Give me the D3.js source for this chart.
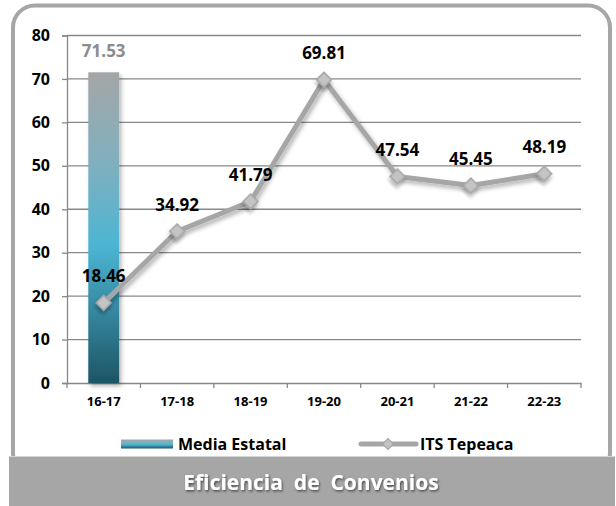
<!DOCTYPE html>
<html>
<head>
<meta charset="utf-8">
<script src="https://cdn.jsdelivr.net/npm/d3@7"></script>
<style>
  body { margin: 0; background: #fff; }
  svg { display: block; }
  text { font-family: 'Open Sans', sans-serif; font-weight: bold; }
</style>
</head>
<body>
<div id="chart"></div>
<script>
// data
const periods = ['16-17', '17-18', '18-19', '19-20', '20-21', '21-22', '22-23']
const itsTepeaca = [18.46, 34.92, 41.79, 69.81, 47.54, 45.45, 48.19]
const mediaEstatal = [71.53, null, null, null, null, null, null]
const yTicks = [0, 10, 20, 30, 40, 50, 60, 70, 80]
const seriesNames = ['Media Estatal', 'ITS Tepeaca']
const title = 'Eficiencia  de  Convenios'

const width = 616
const height = 506
const plot = { left: 67, right: 581, top: 35.5, bottom: 383 }

const svg = d3
  .select('#chart')
  .append('svg')
  .attr('width', width)
  .attr('height', height)

const defs = svg.append('defs')

const grad = defs
  .append('linearGradient')
  .attr('id', 'barGrad')
  .attr('x1', 0).attr('y1', 0)
  .attr('x2', 0).attr('y2', 1)
grad.append('stop').attr('offset', '0%').attr('stop-color', '#a4a6a7')
grad.append('stop').attr('offset', '30%').attr('stop-color', '#7fb0bf')
grad.append('stop').attr('offset', '56%').attr('stop-color', '#4bb5d3')
grad.append('stop').attr('offset', '100%').attr('stop-color', '#1d5566')

const shadow = defs.append('filter').attr('id', 'shadow')
  .attr('x', '-50%').attr('y', '-50%').attr('width', '200%').attr('height', '200%')
shadow.append('feDropShadow')
  .attr('dx', 2).attr('dy', 3).attr('stdDeviation', 2)
  .attr('flood-color', '#000').attr('flood-opacity', 0.3)

const textShadow = defs.append('filter').attr('id', 'tshadow')
textShadow.append('feDropShadow')
  .attr('dx', 1).attr('dy', 1.5).attr('stdDeviation', 1)
  .attr('flood-color', '#000').attr('flood-opacity', 0.55)

// frame
svg.append('rect')
  .attr('x', 13).attr('y', 5.5)
  .attr('width', 597).attr('height', 470)
  .attr('rx', 22)
  .attr('fill', '#fff')
  .attr('stroke', '#a6a6a6')
  .attr('stroke-width', 4)

svg.append('rect')
  .attr('x', 9).attr('y', 457)
  .attr('width', 606).attr('height', 49)
  .attr('fill', '#a6a6a6')

svg.append('line')
  .attr('x1', 9).attr('x2', 615)
  .attr('y1', 456.5).attr('y2', 456.5)
  .attr('stroke', '#d4d4d4')

svg.append('text')
  .attr('x', 311).attr('y', 482)
  .attr('text-anchor', 'middle')
  .attr('dominant-baseline', 'central')
  .attr('fill', '#fff')
  .attr('font-size', 21)
  .attr('filter', 'url(#tshadow)')
  .style('white-space', 'pre')
  .text(title)

// scales
const x = d3.scaleBand().domain(periods).range([plot.left, plot.right])
const y = d3.scaleLinear().domain([0, 80]).range([plot.bottom, plot.top])

// gridlines
svg.append('g')
  .selectAll('line')
  .data(yTicks.slice(1))
  .enter()
  .append('line')
  .attr('x1', plot.left).attr('x2', plot.right)
  .attr('y1', d => y(d)).attr('y2', d => y(d))
  .attr('stroke', '#888')
  .attr('stroke-width', 1.3)

// axes
const yAxis = svg.append('g')
  .attr('transform', `translate(${plot.left},0)`)
  .call(d3.axisLeft(y).tickValues(yTicks).tickSize(5).tickPadding(12))
yAxis.select('.domain').attr('stroke', '#888').attr('stroke-width', 1.3)
yAxis.selectAll('.tick line').attr('stroke', '#888').attr('stroke-width', 1.3)
yAxis.selectAll('text')
  .attr('font-size', 16)
  .attr('fill', '#000')
  .attr('font-family', 'Open Sans')

const xAxis = svg.append('g')
  .attr('transform', `translate(0,${plot.bottom})`)
  .call(d3.axisBottom(x).tickSize(0).tickPadding(14))
xAxis.select('.domain').attr('stroke', '#888').attr('stroke-width', 1.3)
xAxis.selectAll('text')
  .attr('font-size', 13)
  .attr('fill', '#000')
  .attr('font-family', 'Open Sans')

// x ticks at band boundaries
svg.append('g')
  .selectAll('line')
  .data(periods.map(p => x(p)).concat([x(periods[periods.length - 1]) + x.bandwidth()]))
  .enter()
  .append('line')
  .attr('x1', d => d).attr('x2', d => d)
  .attr('y1', plot.bottom).attr('y2', plot.bottom + 5)
  .attr('stroke', '#888')
  .attr('stroke-width', 1.3)

// bars
const barW = x.bandwidth() * 0.42
const barData = periods
  .map((p, i) => ({ p, v: mediaEstatal[i] }))
  .filter(d => d.v != null)

svg.append('g')
  .selectAll('rect')
  .data(barData)
  .enter()
  .append('rect')
  .attr('x', d => x(d.p) + x.bandwidth() / 2 - barW / 2)
  .attr('y', d => y(d.v))
  .attr('width', barW)
  .attr('height', d => y(0) - y(d.v))
  .attr('fill', 'url(#barGrad)')
  .attr('filter', 'url(#shadow)')

svg.append('g')
  .selectAll('text')
  .data(barData)
  .enter()
  .append('text')
  .attr('x', d => x(d.p) + x.bandwidth() / 2)
  .attr('y', d => y(d.v) - 22)
  .attr('text-anchor', 'middle')
  .attr('dominant-baseline', 'central')
  .attr('font-size', 17)
  .attr('fill', '#8c8c8c')
  .text(d => d.v.toFixed(2))

// line
const pts = periods.map((p, i) => ({ p, v: itsTepeaca[i] }))
const cx = d => x(d.p) + x.bandwidth() / 2

const line = d3.line().x(cx).y(d => y(d.v))

svg.append('path')
  .datum(pts)
  .attr('d', line)
  .attr('fill', 'none')
  .attr('stroke', '#a6a6a6')
  .attr('stroke-width', 5)
  .attr('stroke-linejoin', 'round')
  .attr('filter', 'url(#shadow)')

const diamond = d3.symbol().type(d3.symbolSquare).size(110)

svg.append('g')
  .selectAll('path')
  .data(pts)
  .enter()
  .append('path')
  .attr('d', diamond)
  .attr('transform', d => `translate(${cx(d)},${y(d.v)}) rotate(45)`)
  .attr('fill', '#c4c4c4')
  .attr('stroke', '#a6a6a6')
  .attr('stroke-width', 1.5)
  .attr('filter', 'url(#shadow)')

svg.append('g')
  .selectAll('text')
  .data(pts)
  .enter()
  .append('text')
  .attr('x', cx)
  .attr('y', d => y(d.v) - 27)
  .attr('text-anchor', 'middle')
  .attr('dominant-baseline', 'central')
  .attr('font-size', 17)
  .attr('fill', '#000')
  .text(d => d.v.toFixed(2))

// legend
const legend = svg.append('g').attr('transform', 'translate(0,444)')

legend.append('rect')
  .attr('x', 121).attr('y', -4.5)
  .attr('width', 52).attr('height', 9)
  .attr('fill', 'url(#barGrad)')

legend.append('text')
  .attr('x', 178).attr('y', 0)
  .attr('dominant-baseline', 'central')
  .attr('font-size', 16)
  .text(seriesNames[0])

legend.append('line')
  .attr('x1', 361).attr('x2', 416)
  .attr('y1', 0).attr('y2', 0)
  .attr('stroke', '#a6a6a6')
  .attr('stroke-width', 5)
  .attr('stroke-linecap', 'round')

legend.append('path')
  .attr('d', d3.symbol().type(d3.symbolSquare).size(60))
  .attr('transform', 'translate(388,0) rotate(45)')
  .attr('fill', '#c4c4c4')
  .attr('stroke', '#a6a6a6')
  .attr('stroke-width', 1.2)

legend.append('text')
  .attr('x', 420).attr('y', 0)
  .attr('dominant-baseline', 'central')
  .attr('font-size', 16)
  .text(seriesNames[1])
</script>
</body>
</html>
